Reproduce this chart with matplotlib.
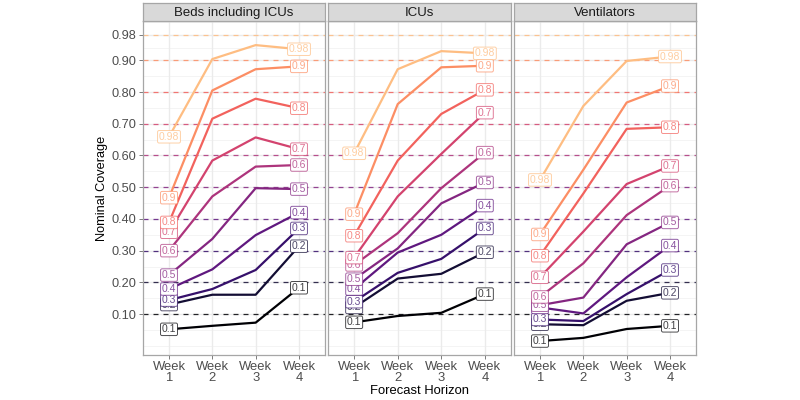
import numpy as np
import matplotlib.pyplot as plt

plt.rcParams['font.family'] = ['Liberation Sans', 'DejaVu Sans']

# nominal coverage levels and their labels
levels = [0.1, 0.2, 0.3, 0.4, 0.5, 0.6, 0.7, 0.8, 0.9, 0.98]
level_labels = ["0.1", "0.2", "0.3", "0.4", "0.5", "0.6", "0.7", "0.8", "0.9", "0.98"]
weeks = [1, 2, 3, 4]
week_labels = ["Week\n1", "Week\n2", "Week\n3", "Week\n4"]
panel_titles = ["Beds including ICUs", "ICUs", "Ventilators"]
y_ticks = [0.1, 0.2, 0.3, 0.4, 0.5, 0.6, 0.7, 0.8, 0.9, 0.98]
y_tick_labels = ["0.10", "0.20", "0.30", "0.40", "0.50", "0.60", "0.70", "0.80", "0.90", "0.98"]

# empirical coverage per level, weeks 1-4
beds = [
    [0.052, 0.063, 0.073, 0.183],
    [0.130, 0.161, 0.161, 0.314],
    [0.144, 0.179, 0.239, 0.370],
    [0.179, 0.241, 0.349, 0.420],
    [0.223, 0.337, 0.497, 0.494],
    [0.300, 0.471, 0.565, 0.570],
    [0.358, 0.584, 0.657, 0.620],
    [0.389, 0.716, 0.779, 0.749],
    [0.467, 0.805, 0.872, 0.881],
    [0.659, 0.904, 0.948, 0.935],
]
icus = [
    [0.074, 0.094, 0.104, 0.163],
    [0.121, 0.212, 0.227, 0.295],
    [0.139, 0.230, 0.274, 0.370],
    [0.179, 0.294, 0.350, 0.442],
    [0.210, 0.307, 0.449, 0.515],
    [0.255, 0.355, 0.497, 0.609],
    [0.278, 0.471, 0.605, 0.735],
    [0.347, 0.584, 0.731, 0.807],
    [0.415, 0.762, 0.878, 0.883],
    [0.607, 0.872, 0.929, 0.922],
]
vents = [
    [0.015, 0.025, 0.053, 0.063],
    [0.068, 0.065, 0.142, 0.167],
    [0.083, 0.078, 0.163, 0.239],
    [0.121, 0.102, 0.216, 0.316],
    [0.128, 0.152, 0.320, 0.389],
    [0.154, 0.260, 0.412, 0.505],
    [0.216, 0.360, 0.510, 0.567],
    [0.284, 0.480, 0.684, 0.689],
    [0.351, 0.555, 0.767, 0.819],
    [0.523, 0.756, 0.898, 0.912],
]

colors = plt.get_cmap('magma')(np.linspace(0, 0.86, len(levels)))

W, H = 800, 400
fig = plt.figure(figsize=(8, 4), dpi=100)

# panel pixel boxes (left, width)
panel_px = [(143, 182), (328, 183), (514, 182)]
top_px, bottom_px, strip_top_px = 21, 355, 3

minor_y = [0.0, 0.05, 0.15, 0.25, 0.35, 0.45, 0.55, 0.65, 0.75, 0.85, 0.94, 1.02]

for p, (data, title) in enumerate(zip([beds, icus, vents], panel_titles)):
    left, width = panel_px[p]
    ax = fig.add_axes([left / W, 1 - bottom_px / H, width / W, (bottom_px - top_px) / H])
    ax.set_xlim(0.4, 4.6)
    ax.set_ylim(-0.029, 1.024)

    # grid
    for y in minor_y:
        ax.axhline(y, color='#F2F2F2', lw=0.6, zorder=0)
    for y in y_ticks:
        ax.axhline(y, color='#EBEBEB', lw=1.0, zorder=0)
    for x in weeks:
        ax.axvline(x, color='#EBEBEB', lw=1.0, zorder=0)

    # nominal reference lines
    for lev, col in zip(levels, colors):
        ax.axhline(lev, color=col, lw=0.9, ls=(0, (4, 4)), alpha=0.85, zorder=1)

    for vals, col in zip(data, colors):
        ax.plot(weeks, vals, color=col, lw=1.6, zorder=2, solid_capstyle='butt')

    for vals, col, lab in zip(data, colors, level_labels):
        for i in [0, 3]:
            ax.text(weeks[i], vals[i], lab, ha='center', va='center', fontsize=7.5,
                    color=col, alpha=0.75, zorder=3,
                    bbox=dict(boxstyle='round,pad=0.12,rounding_size=0.15',
                              fc='white', ec=(col[0], col[1], col[2], 0.7), lw=0.7))

    ax.set_xticks(weeks)
    ax.set_xticklabels(week_labels, fontsize=9.4, color='#4D4D4D', linespacing=0.9)
    ax.set_yticks(y_ticks)
    if p == 0:
        ax.set_yticklabels(y_tick_labels, fontsize=9.2, color='#4D4D4D')
        ax.set_ylabel("Nominal Coverage", fontsize=9.2, color='black', labelpad=3)
    else:
        ax.tick_params(axis='y', length=0, labelleft=False)
    ax.tick_params(axis='both', length=3, width=0.6, color='#666666', pad=1.5)
    if p != 0:
        ax.tick_params(axis='y', length=0)
    for s in ax.spines.values():
        s.set_color('#A6A6A6')
        s.set_linewidth(0.9)
    ax.set_facecolor('white')

    # facet strip
    sax = fig.add_axes([left / W, 1 - top_px / H, width / W, (top_px - strip_top_px) / H])
    sax.set_facecolor('#D9D9D9')
    sax.set_xticks([])
    sax.set_yticks([])
    for s in sax.spines.values():
        s.set_color('#A6A6A6')
        s.set_linewidth(0.9)
    sax.text(0.5, 0.45, title, ha='center', va='center', fontsize=9.5, color='#1A1A1A',
             transform=sax.transAxes)

fig.text(420 / W, 1 - 391 / H, "Forecast Horizon", ha='center', va='center',
         fontsize=9.4, color='black')

fig.savefig('out.png', dpi=100, facecolor='white')
